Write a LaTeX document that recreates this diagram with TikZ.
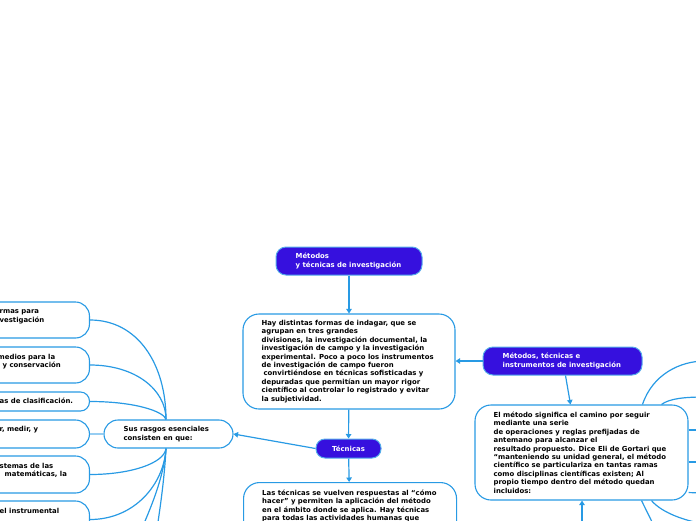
\documentclass[tikz,border=0pt]{standalone}
\usepackage{fontspec}
\setmainfont{DejaVu Sans}
\usetikzlibrary{arrows.meta}
\definecolor{darkfill}{RGB}{54,16,222}
\definecolor{nodeborder}{RGB}{84,172,234}
\definecolor{conn}{RGB}{40,154,228}
\definecolor{connlight}{RGB}{150,205,242}
\begin{document}
\begin{tikzpicture}[x=1pt,y=-1pt,
  dark/.style={draw=nodeborder, line width=1pt, fill=darkfill, rounded corners=10pt, inner sep=0},
  wbox/.style={draw=conn, line width=1.1pt, fill=white, rounded corners=14pt, inner sep=0},
  txt/.style={inner sep=0, align=left, font=\fontsize{6.9}{8.4}\selectfont\bfseries},
  wtxt/.style={txt, text=white},
  link/.style={draw=conn, line width=1.2pt},
  arr/.style={link, -{Triangle[width=5.5pt,length=4.5pt]}}]
\useasboundingbox (0,0) rectangle (696,520);
\clip (0,0) rectangle (696,520);

% ---------- main column ----------
\node[dark, minimum width=146pt, minimum height=28pt] (title) at (349,261) {};
\node[wtxt, anchor=west] (titletxt) at ([xshift=20pt]title.west) {Métodos\\y técnicas de investigación};

\node[wbox, rounded corners=16pt, minimum width=212pt, minimum height=95pt] (central) at (349,361.5) {};
\node[txt, anchor=west] (centraltxt) at ([xshift=19pt]central.west) {Hay distintas formas de indagar, que se\\agrupan en tres grandes\\divisiones, la investigación documental, la\\investigación de campo y la investigación\\experimental. Poco a poco los instrumentos\\de investigación de campo fueron\\\hspace*{2pt}convirtiéndose en técnicas sofisticadas y\\depuradas que permitían un mayor rigor\\científico al controlar lo registrado y evitar\\la subjetividad.};

\node[dark, minimum width=65pt, minimum height=19pt, rounded corners=9pt, font=\fontsize{6.9}{8.4}\selectfont\bfseries, text=white] (tec) at (348.5,448.5) {Técnicas};

\node[wbox, rounded corners=16pt, minimum width=213pt, minimum height=95pt, anchor=north west] (tecbox) at (243,482) {};
\node[txt, anchor=north west] (tecboxtxt) at (262,489.6) {Las técnicas se vuelven respuestas al “cómo\\hacer” y permiten la aplicación del método\\en el ámbito donde se aplica. Hay técnicas\\para todas las actividades humanas que};

% ---------- right ----------
\node[dark, minimum width=159pt, minimum height=28pt] (mti) at (562.5,361) {};
\node[wtxt, anchor=west] (mtitxt) at ([xshift=20pt]mti.west) {Métodos, técnicas e\\instrumentos de investigación};

\node[wbox, rounded corners=16pt, minimum width=213pt, minimum height=95pt] (metodo) at (581.5,452.5) {};
\node[txt, anchor=west] (metodotxt) at ([xshift=19pt]metodo.west) {El método significa el camino por seguir\\mediante una serie\\de operaciones y reglas prefijadas de\\antemano para alcanzar el\\resultado propuesto. Dice Eli de Gortari que\\“manteniendo su unidad general, el método\\científico se particulariza en tantas ramas\\como disciplinas científicas existen; Al\\propio tiempo dentro del método quedan\\incluidos:};

% ---------- left ----------
\node[wbox, minimum width=129pt, minimum height=28pt] (rasgos) at (168.5,434) {};
\node[txt, anchor=west] (rasgostxt) at ([xshift=20pt]rasgos.west) {Sus rasgos esenciales\\consisten en que:};

\node[wbox, minimum width=200pt, minimum height=36pt, anchor=east] (b1) at (90,320) {};
\node[wbox, minimum width=200pt, minimum height=36pt, anchor=east] (b2) at (90,365) {};
\node[wbox, rounded corners=9pt, minimum width=200pt, minimum height=19pt, anchor=east] (b3) at (90,401.5) {};
\node[wbox, minimum width=200pt, minimum height=28pt, anchor=east] (b4) at (90,434) {};
\node[wbox, minimum width=200pt, minimum height=37pt, anchor=east] (b5) at (90,474.5) {};
\node[wbox, minimum width=200pt, minimum height=37pt, anchor=east] (b6) at (90,519.5) {};

\node[txt, anchor=north west] (b1txt) at (-0.5,309.6) {rmas para\\vestigación};
\node[txt, anchor=north west] (b2txt) at (-2.5,353.6) {medios para la\\\hspace*{5pt}y conservación};
\node[txt, anchor=north west] (b3txt) at (-0.5,397.6) {as de clasificación.};
\node[txt, anchor=north west] (b4txt) at (-0.5,426.1) {r, medir, y};
\node[txt, anchor=north west] (b5txt) at (-0.5,463.1) {stemas de las\\\hspace*{5pt}matemáticas, la};
\node[txt, anchor=north west] (b6txt) at (-0.5,507.6) {el instrumental};

% ---------- connectors ----------
\coordinate (rtop) at ([xshift=-2.5pt]rasgos.north);
\coordinate (rbot) at ([xshift=-2.5pt]rasgos.south);
\draw[link] (b1.east) .. controls +(48,0) and +(0,-55) .. (rtop);
\draw[link] (b2.east) .. controls +(45,0) and +(0,-30) .. (rtop);
\draw[link] (b3.east) .. controls +(45,0) and +(-2,-8) .. (rtop);
\draw[draw=connlight, line width=1.2pt] (b4.east) -- (rasgos.west);
\draw[link] (rbot) .. controls +(-2,15) and +(40,0) .. (b5.east);
\draw[link] (rbot) .. controls +(-2,35) and +(45,0) .. (b6.east);
\coordinate (offL1) at (128,560);
\coordinate (offL2) at (152,560);
\draw[link] (rbot) .. controls +(-3,40) and +(10,-25) .. (offL1);
\draw[link] (rbot) .. controls +(-2,40) and +(4,-25) .. (offL2);

\draw[arr] (title) -- (central);
\draw[arr] (central) -- (tec);
\draw[arr] (tec) -- (tecbox);
\draw[arr] (tec.west) -- (rasgos.east);
\draw[arr] (mti.west) -- (central.east |- mti.west);
\draw[arr] ([xshift=3pt]mti.south) -- ([xshift=-11pt]metodo.north);
\coordinate (below) at (582,530);
\draw[arr] (below) -- (metodo.south -| below);

% right-side branches to children beyond the edge
\coordinate (offR1) at (705,361);
\coordinate (offR2) at (705,397);
\coordinate (offR3) at (705,430);
\coordinate (offR4) at (705,462);
\coordinate (offR5) at (705,493);
\coordinate (offR6) at (705,524);
\coordinate (offR7) at (656,530);
\draw[link] ([xshift=61pt]metodo.north) .. controls +(10,-30) and +(-25,0) .. (offR1);
\draw[link] ([xshift=80pt]metodo.north) .. controls +(8,-6) and +(-20,0) .. (offR2);
\draw[link] (metodo.east |- offR3) -- (offR3);
\draw[link] (metodo.east |- offR4) -- (offR4);
\draw[link] ([yshift=8pt]metodo.south east) -- (offR5);
\draw[link] ([xshift=70pt]metodo.south) .. controls +(10,12) and +(-20,-3) .. (offR6);
\draw[link] ([xshift=60pt]metodo.south) -- (offR7);
\end{tikzpicture}
\end{document}
